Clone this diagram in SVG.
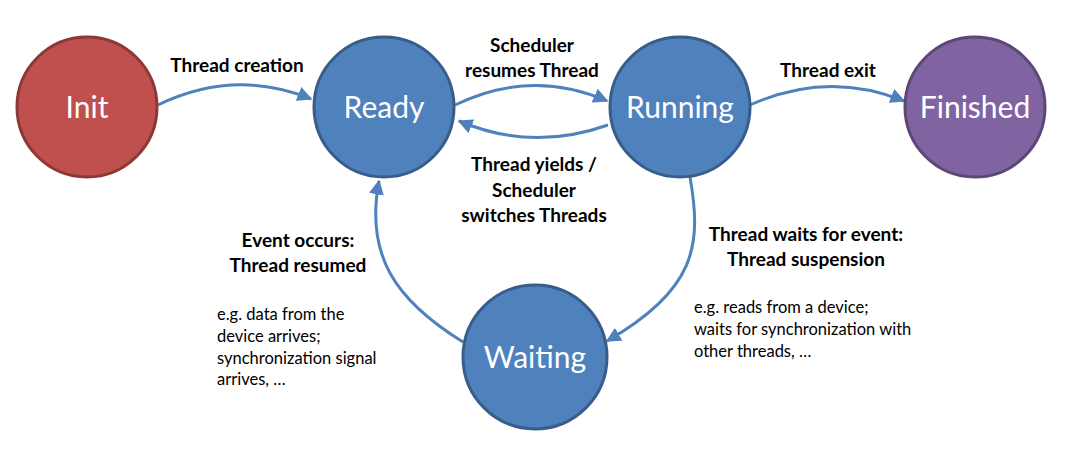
<svg xmlns="http://www.w3.org/2000/svg" width="1069" height="462" viewBox="0 0 1069 462">
<defs>
<marker id="ah" viewBox="0 0 10 10" refX="9" refY="5" markerWidth="5" markerHeight="5" orient="auto" markerUnits="strokeWidth">
<path d="M0,0 L10,5 L0,10 z" fill="#4f81bd"/>
</marker>
<style>
.st{font-family:Lato,"Open Sans","Liberation Sans",sans-serif;font-size:30px;fill:#ffffff;text-anchor:middle}
.lb{font-family:Lato,"Open Sans","Liberation Sans",sans-serif;font-size:19px;font-weight:bold;fill:#000000;text-anchor:middle}
.sm{font-family:Lato,"Open Sans","Liberation Sans",sans-serif;font-size:16.5px;fill:#000000}
.edge{fill:none;stroke:#4f81bd;stroke-width:3;marker-end:url(#ah)}
.c{stroke-width:3}
</style>
</defs>
<rect width="1069" height="462" fill="#ffffff"/>
<g id="connectors">
<path class="edge" d="M158,105 Q235,68 311,99"/>
<path class="edge" d="M455,105 Q532,68 607,101"/>
<path class="edge" d="M608,125 Q532,152 459,121"/>
<path class="edge" d="M750,105 Q828,70 904,101"/>
<path class="edge" d="M690,177 C702,245 696,290 607,341"/>
<path class="edge" d="M463,342 C395,300 365,255 379,181"/>
</g>
<g id="init"><circle class="c" cx="87" cy="107" r="70" fill="#c0504d" stroke="#8c3836"/><text class="st" x="87" y="118">Init</text></g>
<g id="ready"><circle class="c" cx="384" cy="107" r="70" fill="#4f81bd" stroke="#385d8a"/><text class="st" x="384" y="118">Ready</text></g>
<g id="running"><circle class="c" cx="680" cy="107" r="70" fill="#4f81bd" stroke="#385d8a"/><text class="st" x="680" y="118">Running</text></g>
<g id="finished"><circle class="c" cx="975" cy="107" r="70" fill="#8064a2" stroke="#5c4776"/><text class="st" x="975" y="118">Finished</text></g>
<g id="waiting"><circle class="c" cx="535" cy="357" r="72" fill="#4f81bd" stroke="#385d8a"/><text class="st" x="535" y="368">Waiting</text></g>
<g id="labels">
<text class="lb" x="237" y="72">Thread creation</text>
<text class="lb" x="532" y="52">Scheduler</text>
<text class="lb" x="532" y="77">resumes Thread</text>
<text class="lb" x="534" y="171">Thread yields /</text>
<text class="lb" x="534" y="197">Scheduler</text>
<text class="lb" x="534" y="222">switches Threads</text>
<text class="lb" x="828" y="77">Thread exit</text>
<text class="lb" x="298" y="247">Event occurs:</text>
<text class="lb" x="298" y="272">Thread resumed</text>
<text class="lb" x="806" y="241">Thread waits for event:</text>
<text class="lb" x="806" y="266">Thread suspension</text>
<text class="sm" x="217" y="320">e.g. data from the</text>
<text class="sm" x="217" y="342">device arrives;</text>
<text class="sm" x="217" y="364">synchronization signal</text>
<text class="sm" x="217" y="385">arrives, …</text>
<text class="sm" x="694" y="313">e.g. reads from a device;</text>
<text class="sm" x="694" y="335">waits for synchronization with</text>
<text class="sm" x="694" y="357">other threads, …</text>
</g>
</svg>
